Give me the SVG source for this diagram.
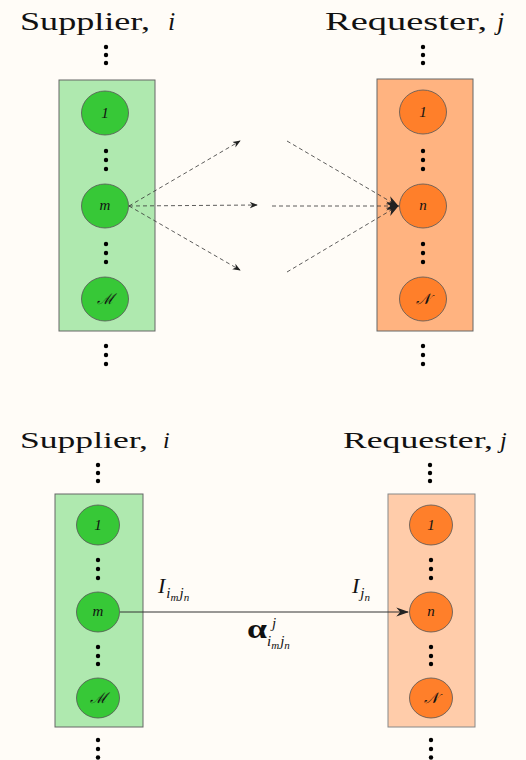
<svg xmlns="http://www.w3.org/2000/svg" width="526" height="760" viewBox="0 0 526 760">
<defs>
<marker id="ah" viewBox="0 0 10 10" refX="9" refY="5" markerWidth="8" markerHeight="8" markerUnits="userSpaceOnUse" orient="auto">
<path d="M0,1 L10,5 L0,9 L3,5 Z" fill="#222"/>
</marker>
<marker id="ah2" viewBox="0 0 10 10" refX="9" refY="5" markerWidth="13" markerHeight="13" markerUnits="userSpaceOnUse" orient="auto">
<path d="M0,1.5 L10,5 L0,8.5 L3,5 Z" fill="#222"/>
</marker>
</defs>
<style>
.hd{font-family:"Liberation Serif",serif;fill:#111}
.it{font-family:"Liberation Serif",serif;font-style:italic;fill:#111}
.lb{font-family:"Liberation Serif","DejaVu Serif",serif;font-style:italic;font-size:15px;fill:#111;text-anchor:middle}
.gb{fill:#AFE9AF;stroke:#666;stroke-width:1}
.ob{fill:#FFB380;stroke:#666;stroke-width:1}
.ob2{fill:#FFCCAA;stroke:#888;stroke-width:1}
.gc{fill:#37C837;stroke:#555;stroke-width:0.8}
.oc{fill:#FF7F2A;stroke:#555;stroke-width:0.8}
.dash{stroke:#333;stroke-width:0.8;stroke-dasharray:4,3;fill:none}
.dot{fill:#000}
</style>
<rect width="526" height="760" fill="#FFFCF7"/>

<g id="top-headers">
<text class="hd" x="20" y="30" font-size="26" textLength="130" lengthAdjust="spacingAndGlyphs">Supplier,</text>
<text class="it" x="168" y="30" font-size="26">i</text>
<text class="hd" x="325" y="30" font-size="26" textLength="162" lengthAdjust="spacingAndGlyphs">Requester,</text>
<text class="it" x="497" y="30" font-size="26">j</text>
</g>

<g id="top-supplier">
<circle class="dot" cx="106" cy="47" r="2.2"/><circle class="dot" cx="106" cy="55" r="2.2"/><circle class="dot" cx="106" cy="63" r="2.2"/>
<rect class="gb" x="59" y="80" width="96" height="251"/>
<g id="ts1"><ellipse class="gc" cx="105" cy="113" rx="23.5" ry="22"/><text class="lb" x="105" y="118">1</text></g>
<circle class="dot" cx="106" cy="151" r="2.2"/><circle class="dot" cx="106" cy="160" r="2.2"/><circle class="dot" cx="106" cy="169" r="2.2"/>
<g id="tsm"><ellipse class="gc" cx="105" cy="206" rx="23.5" ry="22"/><text class="lb" x="105" y="210">m</text></g>
<circle class="dot" cx="106" cy="244" r="2.2"/><circle class="dot" cx="106" cy="253" r="2.2"/><circle class="dot" cx="106" cy="262" r="2.2"/>
<g id="tsM"><ellipse class="gc" cx="105" cy="299" rx="23.5" ry="22"/><text class="lb" x="105" y="304">ℳ</text></g>
<circle class="dot" cx="106" cy="346" r="2.2"/><circle class="dot" cx="106" cy="355" r="2.2"/><circle class="dot" cx="106" cy="364" r="2.2"/>
</g>

<g id="top-requester">
<circle class="dot" cx="423" cy="47" r="2.2"/><circle class="dot" cx="423" cy="55" r="2.2"/><circle class="dot" cx="423" cy="63" r="2.2"/>
<rect class="ob" x="377" y="79" width="96" height="252"/>
<g id="tr1"><ellipse class="oc" cx="423" cy="112" rx="23.5" ry="22"/><text class="lb" x="423" y="117">1</text></g>
<circle class="dot" cx="423" cy="151" r="2.2"/><circle class="dot" cx="423" cy="160" r="2.2"/><circle class="dot" cx="423" cy="169" r="2.2"/>
<g id="trn"><ellipse class="oc" cx="423" cy="206" rx="23.5" ry="22"/><text class="lb" x="423" y="210">n</text></g>
<circle class="dot" cx="423" cy="244" r="2.2"/><circle class="dot" cx="423" cy="253" r="2.2"/><circle class="dot" cx="423" cy="262" r="2.2"/>
<g id="trN"><ellipse class="oc" cx="423" cy="299" rx="23.5" ry="22"/><text class="lb" x="423" y="304">𝒩</text></g>
<circle class="dot" cx="423" cy="346" r="2.2"/><circle class="dot" cx="423" cy="355" r="2.2"/><circle class="dot" cx="423" cy="364" r="2.2"/>
</g>

<g id="top-connectors">
<line class="dash" x1="129" y1="206" x2="240" y2="141" marker-end="url(#ah)"/>
<line class="dash" x1="129" y1="206" x2="257" y2="205" marker-end="url(#ah)"/>
<line class="dash" x1="129" y1="206" x2="240" y2="270" marker-end="url(#ah)"/>
<line class="dash" x1="287" y1="141" x2="398" y2="206" marker-end="url(#ah2)"/>
<line class="dash" x1="272" y1="206" x2="398" y2="206" marker-end="url(#ah2)"/>
<line class="dash" x1="287" y1="272" x2="398" y2="206" marker-end="url(#ah2)"/>
</g>

<g id="bottom-headers">
<text class="hd" x="20" y="448" font-size="24" textLength="128" lengthAdjust="spacingAndGlyphs">Supplier,</text>
<text class="it" x="163" y="448" font-size="24">i</text>
<text class="hd" x="343" y="448" font-size="24" textLength="150" lengthAdjust="spacingAndGlyphs">Requester,</text>
<text class="it" x="500" y="448" font-size="24">j</text>
</g>

<g id="bottom-supplier">
<circle class="dot" cx="98" cy="465" r="2.2"/><circle class="dot" cx="98" cy="473" r="2.2"/><circle class="dot" cx="98" cy="481" r="2.2"/>
<rect class="gb" x="55" y="494" width="88" height="233"/>
<g id="bs1"><ellipse class="gc" cx="98" cy="525" rx="21.5" ry="20"/><text class="lb" x="98" y="530">1</text></g>
<circle class="dot" cx="98" cy="560" r="2.2"/><circle class="dot" cx="98" cy="569" r="2.2"/><circle class="dot" cx="98" cy="578" r="2.2"/>
<g id="bsm"><ellipse class="gc" cx="98" cy="612" rx="21.5" ry="20"/><text class="lb" x="98" y="616">m</text></g>
<circle class="dot" cx="98" cy="647" r="2.2"/><circle class="dot" cx="98" cy="656" r="2.2"/><circle class="dot" cx="98" cy="664" r="2.2"/>
<g id="bsM"><ellipse class="gc" cx="98" cy="698" rx="21.5" ry="20"/><text class="lb" x="98" y="703">ℳ</text></g>
<circle class="dot" cx="98" cy="740" r="2.2"/><circle class="dot" cx="98" cy="749" r="2.2"/><circle class="dot" cx="98" cy="757.5" r="2.2"/>
</g>

<g id="bottom-requester">
<circle class="dot" cx="430" cy="465" r="2.2"/><circle class="dot" cx="430" cy="473" r="2.2"/><circle class="dot" cx="430" cy="481" r="2.2"/>
<rect class="ob2" x="388" y="494" width="87" height="233"/>
<g id="br1"><ellipse class="oc" cx="431" cy="525" rx="21.5" ry="20"/><text class="lb" x="431" y="530">1</text></g>
<circle class="dot" cx="431" cy="560" r="2.2"/><circle class="dot" cx="431" cy="569" r="2.2"/><circle class="dot" cx="431" cy="578" r="2.2"/>
<g id="brn"><ellipse class="oc" cx="431" cy="612" rx="21.5" ry="20"/><text class="lb" x="431" y="616">n</text></g>
<circle class="dot" cx="431" cy="647" r="2.2"/><circle class="dot" cx="431" cy="656" r="2.2"/><circle class="dot" cx="431" cy="664" r="2.2"/>
<g id="brN"><ellipse class="oc" cx="431" cy="698" rx="21.5" ry="20"/><text class="lb" x="431" y="703">𝒩</text></g>
<circle class="dot" cx="431" cy="740" r="2.2"/><circle class="dot" cx="431" cy="749" r="2.2"/><circle class="dot" cx="431" cy="757.5" r="2.2"/>
</g>

<g id="bottom-connectors">
<line x1="120" y1="612" x2="408" y2="612" stroke="#333" stroke-width="1" marker-end="url(#ah2)"/>
<text class="it" x="158" y="593" font-size="22">I<tspan font-size="15" dy="5" dx="1">i</tspan><tspan font-size="11" dy="3">m</tspan><tspan font-size="15" dy="-3" dx="1">j</tspan><tspan font-size="11" dy="3">n</tspan></text>
<text class="it" x="352" y="593" font-size="22">I<tspan font-size="15" dy="5" dx="1">j</tspan><tspan font-size="11" dy="3">n</tspan></text>
<text class="hd" x="247" y="638" font-size="28" font-weight="bold" textLength="20" lengthAdjust="spacingAndGlyphs">α</text>
<text class="it" x="272" y="628" font-size="15">j</text>
<text class="it" x="267" y="646" font-size="15">i<tspan font-size="11" dy="3">m</tspan><tspan dy="-3" dx="1">j</tspan><tspan font-size="11" dy="3">n</tspan></text>
</g>
</svg>
